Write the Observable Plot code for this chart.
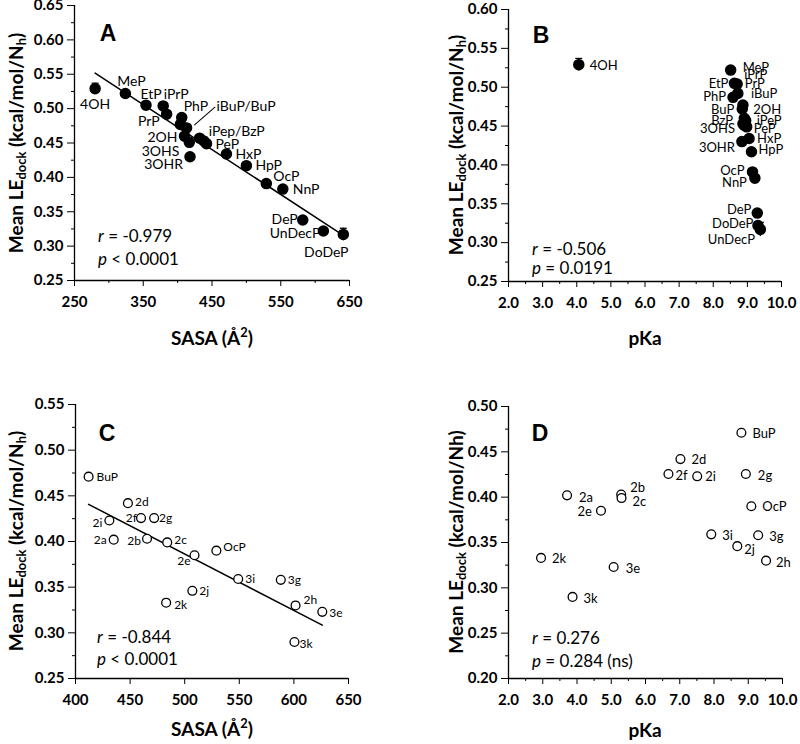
<!DOCTYPE html>
<html><head><meta charset="utf-8">
<script src="https://cdn.jsdelivr.net/npm/d3@7"></script>
<script src="https://cdn.jsdelivr.net/npm/@observablehq/plot@0.6"></script>
<style>
body{margin:0;background:#fff;}
#root{position:relative;width:800px;height:744px;background:#fff;font-family:Lato,sans-serif;color:#000;overflow:hidden;}
.panel{position:absolute;}
.ytitle{position:absolute;white-space:nowrap;font-weight:bold;font-size:19px;transform:translate(-50%,-50%) rotate(-90deg);line-height:1;}
.xtitle{position:absolute;white-space:nowrap;font-weight:bold;font-size:19px;transform:translate(-50%,-50%);line-height:1;}
.letter{position:absolute;font-family:"Liberation Sans",Arial,sans-serif;font-weight:bold;font-size:23px;transform:translate(-50%,-50%);line-height:1;}
.stat{position:absolute;font-size:17px;transform:translateY(-50%);white-space:nowrap;line-height:1;}
sub{font-size:0.68em;vertical-align:-0.3em;line-height:0;}
sup{font-size:0.68em;vertical-align:0.6em;line-height:0;}
</style></head><body><div id="root"></div>
<script>
// ---------- Data: panels A & B (phenol/paraben series) ----------
const compoundsAB = ["4OH","MeP","EtP","iPrP","PrP","PhP","iBuP","BuP","2OH","3OHS","3OHR","iPeP","BzP","PeP","HxP","HpP","OcP","NnP","DeP","UnDecP","DoDeP"];
const sasaAB = [280, 324, 354, 379, 384, 406, 404, 413, 410, 417, 418, 432, 438, 442, 471, 500, 529, 553, 582, 612, 641];
const pKaAB  = [4.06, 8.51, 8.62, 8.70, 8.72, 8.58, 8.87, 8.85, 8.91, 8.90, 8.84, 8.95, 8.87, 8.98, 9.05, 9.12, 9.15, 9.22, 9.29, 9.31, 9.38];
const leAB   = [0.529, 0.522, 0.505, 0.504, 0.492, 0.487, 0.477, 0.472, 0.460, 0.451, 0.430, 0.457, 0.453, 0.449, 0.434, 0.417, 0.391, 0.383, 0.338, 0.322, 0.317];
const errAB  = [0.008, 0, 0, 0, 0, 0, 0, 0, 0, 0, 0, 0, 0, 0, 0, 0, 0, 0, 0, 0, 0.009];

// ---------- Data: panels C & D (analogue series) ----------
const compoundsCD = ["BuP","2a","2b","2c","2d","2e","2f","2g","2h","2i","2j","2k","3e","3g","3i","3k","OcP"];
const sasaCD = [412, 435, 465.5, 484, 448, 509, 460, 472, 601.5, 431, 507, 483, 626, 588, 549, 600.5, 529];
const pKaCD  = [8.80, 3.71, 5.29, 5.30, 7.02, 4.70, 6.67, 8.93, 9.52, 7.51, 8.68, 2.95, 5.07, 9.29, 7.92, 3.87, 9.09];
const leCD   = [0.471, 0.402, 0.403, 0.399, 0.442, 0.385, 0.4256, 0.4256, 0.330, 0.423, 0.346, 0.333, 0.323, 0.358, 0.359, 0.290, 0.390];

// ---------- Axis ticks ----------
const yTicksA = [0.25, 0.30, 0.35, 0.40, 0.45, 0.50, 0.55, 0.60, 0.65];
const xTicksA = [250, 350, 450, 550, 650];
const yTicksB = [0.25, 0.30, 0.35, 0.40, 0.45, 0.50, 0.55, 0.60];
const xTicksB = [2, 3, 4, 5, 6, 7, 8, 9, 10];
const yTicksC = [0.25, 0.30, 0.35, 0.40, 0.45, 0.50, 0.55];
const xTicksC = [400, 450, 500, 550, 600, 650];
const yTicksD = [0.20, 0.25, 0.30, 0.35, 0.40, 0.45, 0.50];
const xTicksD = [2, 3, 4, 5, 6, 7, 8, 9, 10];

// ---------- Stats text ----------
const statsA = ["= -0.979", "< 0.0001"];
const statsB = ["= -0.506", "= 0.0191"];
const statsC = ["= -0.844", "< 0.0001"];
const statsD = ["= 0.276", "= 0.284 (ns)"];

const rowsAB = compoundsAB.map((name, i) => ({name, sasa: sasaAB[i], pKa: pKaAB[i], le: leAB[i], err: errAB[i]}));
const rowsCD = compoundsCD.map((name, i) => ({name, sasa: sasaCD[i], pKa: pKaCD[i], le: leCD[i]}));

// label placement (pixel offsets, anchor) and text overrides
const placeA = {"4OH":[0,16,"middle"],"MeP":[6,-12,"middle"],"EtP":[5,-11,"middle"],"iPrP":[13,-11,"middle"],
  "PrP":[-7,7,"end"],"PhP":[2,-11,"start"],"BuP":[30,-21,"start"],"2OH":[-7,1,"end"],"3OHS":[-10,9,"end"],
  "3OHR":[-7,8,"end"],"iPeP":[9,-7,"start"],"PeP":[9,1,"start"],"HxP":[9,1,"start"],"HpP":[9,0,"start"],
  "OcP":[7,-7,"start"],"NnP":[10,0,"start"],"DeP":[-5,0,"end"],"UnDecP":[-3,3,"end"],"DoDeP":[-17,18,"middle"]};
const textA = {"BuP":"iBuP/BuP","iPeP":"iPep/BzP"};
const placeB = {"4OH":[11,1,"start"],"MeP":[12,-2,"start"],"EtP":[-6,0,"end"],"iPrP":[7,-9,"start"],"PrP":[7,-10,"start"],
  "PhP":[-7,0,"end"],"iBuP":[8,-11,"start"],"2OH":[9,-8,"start"],"BuP":[-8,1,"end"],"BzP":[-10,-3,"end"],
  "iPeP":[11,0,"start"],"PeP":[7,2,"start"],"3OHS":[-9,4,"end"],"HxP":[8,0,"start"],"3OHR":[-7,6,"end"],
  "HpP":[7,-2,"start"],"OcP":[-8,-1,"end"],"NnP":[-8,5,"end"],"DeP":[-6,-3,"end"],"UnDecP":[-3,14,"end"],"DoDeP":[-7,-6,"end"]};
const placeC = {"BuP":[8,1,"start"],"2d":[7,-1,"start"],"2i":[-7,3,"end"],"2f":[-4,0,"end"],"2g":[5,0,"start"],
  "2a":[-7,0,"end"],"2b":[-6,2,"end"],"2c":[7,-2,"start"],"2e":[-4,6,"end"],"OcP":[7,-3,"start"],"3i":[7,0,"start"],
  "3g":[7,0,"start"],"2h":[8,-5,"start"],"3e":[7,1,"start"],"2j":[7,0,"start"],"2k":[8,2,"start"],"3k":[5,2,"start"]};
const placeD = {"BuP":[11,1,"start"],"2d":[11,1,"start"],"2f":[7,2,"start"],"2i":[8,1,"start"],"2g":[12,2,"start"],
  "2a":[12,2,"start"],"2b":[9,-7,"start"],"2c":[11,4,"start"],"2e":[-9,1,"end"],"OcP":[11,1,"start"],"3i":[11,1,"start"],
  "3g":[11,2,"start"],"2j":[7,4,"start"],"2h":[10,2,"start"],"2k":[11,1,"start"],"3e":[12,2,"start"],"3k":[11,2,"start"]};

const mid = arr => arr.slice(1).map((v, i) => (v + arr[i]) / 2);
const capSymbol = {draw(ctx, size) { const w = Math.sqrt(size / Math.PI); ctx.moveTo(-w, 0); ctx.lineTo(w, 0); }};
const lineShape = {draw(ctx, l) { ctx.moveTo(0, 0); ctx.lineTo(0, -l); }};

function panel(cfg) {
  const marks = [];
  marks.push(Plot.axisY({ticks: mid(cfg.yTicks), tickSize: 3, tickFormat: () => "", label: null}));
  marks.push(Plot.axisY({ticks: cfg.yTicks, tickSize: 7, tickPadding: 4, tickFormat: d3.format(".2f"), label: null}));
  if (cfg.xMinor) marks.push(Plot.axisX({ticks: cfg.xMinor, tickSize: 3, tickFormat: () => "", label: null}));
  marks.push(Plot.axisX({ticks: cfg.xTicks, tickSize: 6, tickPadding: 10, tickFormat: cfg.xFmt, label: null}));
  marks.push(Plot.ruleX([cfg.xDomain[0]], {stroke: "black", strokeWidth: 1.3}));
  marks.push(Plot.ruleY([cfg.yDomain[0]], {stroke: "black", strokeWidth: 1.3}));
  if (cfg.regression) marks.push(Plot.linearRegressionY(cfg.rows, {x: cfg.xKey, y: "le", stroke: "black", strokeWidth: 1.5, ci: 0}));
  if (cfg.errors) {
    const e = cfg.rows.filter(d => d.err > 0);
    marks.push(Plot.ruleX(e, {x: cfg.xKey, y1: d => d.le - d.err, y2: d => d.le + d.err, stroke: "black", strokeWidth: 1.3}));
    marks.push(Plot.dot(e, {x: cfg.xKey, y: d => d.le + d.err, symbol: capSymbol, r: 3.5, stroke: "black", strokeWidth: 1.3}));
  }
  if (cfg.leader) {
    const d = cfg.rows.filter(r => r.name === cfg.leader.name);
    marks.push(Plot.vector(d, {x: cfg.xKey, y: "le", anchor: "start", length: cfg.leader.length, rotate: cfg.leader.rotate,
      shape: lineShape, stroke: "black", strokeWidth: 1, dx: cfg.leader.dx, dy: cfg.leader.dy}));
  }
  if (cfg.filled) marks.push(Plot.dot(cfg.rows, {x: cfg.xKey, y: "le", r: 5, fill: "black", stroke: "black"}));
  else marks.push(Plot.dot(cfg.rows, {x: cfg.xKey, y: "le", r: 4.4, fill: "white", stroke: "black", strokeWidth: 1.3}));
  for (const d of cfg.rows) {
    const p = cfg.place[d.name];
    if (!p) continue;
    const t = (cfg.texts && cfg.texts[d.name]) || d.name;
    marks.push(Plot.text([d], {x: cfg.xKey, y: "le", text: () => t, dx: p[0], dy: p[1], textAnchor: p[2],
      fontSize: cfg.labelSize, fontWeight: "normal", fill: "black"}));
  }
  const svg = Plot.plot({
    width: cfg.width, height: cfg.height,
    marginLeft: cfg.m[0], marginRight: cfg.m[1], marginTop: cfg.m[2], marginBottom: cfg.m[3],
    x: {domain: cfg.xDomain, label: null},
    y: {domain: cfg.yDomain, label: null},
    style: {fontFamily: "Lato, sans-serif", fontSize: "15px", fontWeight: "bold", color: "black", background: "transparent", overflow: "visible"},
    marks
  });
  svg.classList.add("panel");
  svg.style.position = "absolute";
  svg.style.left = cfg.left + "px";
  svg.style.top = cfg.top + "px";
  return svg;
}

const root = document.getElementById("root");
root.appendChild(panel({left: 0, top: 0, width: 400, height: 372, m: [74, 51, 5, 92],
  xDomain: [250, 650], yDomain: [0.25, 0.65], xTicks: xTicksA, xMinor: mid(xTicksA), yTicks: yTicksA,
  xFmt: d3.format("d"), rows: rowsAB, xKey: "sasa", filled: true, regression: true, errors: true,
  place: placeA, texts: textA, labelSize: 14, leader: {name: "BuP", length: 27, rotate: 49, dx: 8, dy: -3}}));
root.appendChild(panel({left: 400, top: 0, width: 400, height: 372, m: [108, 19, 9, 91],
  xDomain: [2, 10], yDomain: [0.25, 0.60], xTicks: xTicksB, xMinor: mid(xTicksB), yTicks: yTicksB,
  xFmt: d3.format(".1f"), rows: rowsAB, xKey: "pKa", filled: true, errors: true,
  place: placeB, labelSize: 13}));
root.appendChild(panel({left: 0, top: 372, width: 400, height: 372, m: [75, 52, 32, 66],
  xDomain: [400, 650], yDomain: [0.25, 0.55], xTicks: xTicksC, yTicks: yTicksC,
  xFmt: d3.format("d"), rows: rowsCD, xKey: "sasa", filled: false, regression: true,
  place: placeC, labelSize: 12}));
root.appendChild(panel({left: 400, top: 372, width: 400, height: 372, m: [108, 18, 34, 66],
  xDomain: [2, 10], yDomain: [0.20, 0.50], xTicks: xTicksD, xMinor: mid(xTicksD), yTicks: yTicksD,
  xFmt: d3.format(".1f"), rows: rowsCD, xKey: "pKa", filled: false,
  place: placeD, labelSize: 13}));

function addDiv(cls, html, x, y) {
  const d = document.createElement("div");
  d.className = cls; d.innerHTML = html;
  d.style.left = x + "px"; d.style.top = y + "px";
  root.appendChild(d);
}
const yTitle = "Mean LE<sub>dock</sub> (kcal/mol/N<sub>h</sub>)";
addDiv("ytitle", yTitle, 15, 143);
addDiv("ytitle", yTitle, 455, 145);
addDiv("ytitle", yTitle, 15, 541);
addDiv("ytitle", "Mean LE<sub>dock</sub> (kcal/mol/Nh)", 455, 542);
addDiv("xtitle", "SASA (Å<sup>2</sup>)", 212, 337);
addDiv("xtitle", "pKa", 645, 337);
addDiv("xtitle", "SASA (Å<sup>2</sup>)", 212, 728);
addDiv("xtitle", "pKa", 645, 729);
addDiv("letter", "A", 108, 33);
addDiv("letter", "B", 541, 35);
addDiv("letter", "C", 107, 433);
addDiv("letter", "D", 540, 433);
addDiv("stat", "<i>r</i> " + statsA[0], 98, 235);
addDiv("stat", "<i>p</i> " + statsA[1], 98, 258);
addDiv("stat", "<i>r</i> " + statsB[0], 532, 248);
addDiv("stat", "<i>p</i> " + statsB[1], 532, 267);
addDiv("stat", "<i>r</i> " + statsC[0], 97, 636);
addDiv("stat", "<i>p</i> " + statsC[1], 97, 658);
addDiv("stat", "<i>r</i> " + statsD[0], 532, 637);
addDiv("stat", "<i>p</i> " + statsD[1], 532, 660);
</script></body></html>
